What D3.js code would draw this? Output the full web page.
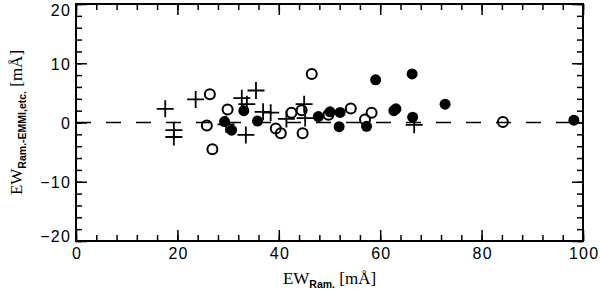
<!DOCTYPE html>
<meta charset="utf-8">
<script src="https://d3js.org/d3.v7.min.js"></script>
<style>
  body { margin: 0; background: #fff; }
</style>
<div id="my_dataviz"></div>
<script>

    // tick values and labels
    const xTickVals = [0, 20, 40, 60, 80, 100];
    const xMinorVals = [0, 4, 8, 12, 16, 20, 24, 28, 32, 36, 40, 44, 48, 52, 56, 60, 64, 68, 72, 76, 80, 84, 88, 92, 96, 100];
    const yTickVals = [-20, -10, 0, 10, 20];
    const yMinorVals = [-20, -18, -16, -14, -12, -10, -8, -6, -4, -2, 0, 2, 4, 6, 8, 10, 12, 14, 16, 18, 20];

    // plus symbols
    const plusX = [17.6, 19.3, 19.3, 23.6, 32.7, 33.7, 35.5, 33.5, 29.6, 36.9, 38.4, 41.5, 45.0, 45.2, 66.7];
    const plusY = [2.3, -1.3, -2.45, 3.9, 4.1, 3.1, 5.4, -2.1, -0.3, 1.8, 1.65, 0.6, 3.1, 0.75, -0.4];

    // open circles
    const openX = [26.4, 29.9, 25.8, 26.9, 46.5, 39.4, 40.4, 42.5, 44.5, 44.7, 49.8, 54.2, 58.3, 57.0, 84.2];
    const openY = [4.75, 2.2, -0.5, -4.5, 8.2, -1.0, -1.8, 1.65, 2.05, -1.8, 1.3, 2.35, 1.65, 0.5, 0.1];

    // filled circles
    const filledX = [29.3, 30.7, 33.1, 35.8, 47.8, 50.1, 52.1, 51.9, 57.3, 59.1, 62.7, 63.1, 66.3, 66.4, 72.8, 98.2];
    const filledY = [0.15, -1.3, 2.0, 0.25, 1.0, 1.8, 1.7, -0.7, -0.65, 7.2, 2.0, 2.3, 8.2, 0.9, 3.1, 0.4];

    const W = 600, H = 294;
    const mLeft = 76, mRight = 583, mTop = 4, mBottom = 241;

    const svg = d3.select("#my_dataviz")
        .append("svg")
        .attr("width", W)
        .attr("height", H)
        .style("display", "block");

    const x = d3.scaleLinear().domain([0, 100]).range([mLeft, mRight]);
    const y = d3.scaleLinear().domain([-20, 20]).range([mBottom, mTop]);

    const tickFont = "'Liberation Sans', Arial, sans-serif";

    function styleAxis(g) {
        g.select(".domain").remove();
        g.selectAll("line").attr("stroke", "#000").attr("stroke-width", 1.5);
        g.selectAll("text").attr("fill", "#000").style("font-family", tickFont)
            .style("font-size", "16px").style("letter-spacing", "1.2px");
    }

    // bottom axis: major + minor
    svg.append("g").attr("transform", `translate(0,${mBottom})`)
        .call(d3.axisBottom(x).tickValues(xMinorVals).tickSize(-6).tickFormat(""))
        .call(styleAxis);
    svg.append("g").attr("transform", `translate(0,${mBottom})`)
        .call(d3.axisBottom(x).tickValues(xTickVals).tickSize(-11).tickPadding(7).tickFormat(d3.format("d")))
        .call(styleAxis)
        .selectAll("text").attr("dx", 0.6);

    // top axis
    svg.append("g").attr("transform", `translate(0,${mTop})`)
        .call(d3.axisTop(x).tickValues(xMinorVals).tickSize(-6).tickFormat(""))
        .call(styleAxis);
    svg.append("g").attr("transform", `translate(0,${mTop})`)
        .call(d3.axisTop(x).tickValues(xTickVals).tickSize(-11).tickFormat(""))
        .call(styleAxis);

    // left axis
    svg.append("g").attr("transform", `translate(${mLeft},0)`)
        .call(d3.axisLeft(y).tickValues(yMinorVals).tickSize(-6).tickFormat(""))
        .call(styleAxis);
    svg.append("g").attr("transform", `translate(${mLeft},0)`)
        .call(d3.axisLeft(y).tickValues(yTickVals).tickSize(-11).tickPadding(5)
            .tickFormat(d => d < 0 ? "\u2212" + Math.abs(d) : d))
        .call(styleAxis)
        .selectAll("text")
        .attr("y", d => d === 20 ? 6.5 : d === -20 ? -5 : 1);

    // right axis
    svg.append("g").attr("transform", `translate(${mRight},0)`)
        .call(d3.axisRight(y).tickValues(yMinorVals).tickSize(-6).tickFormat(""))
        .call(styleAxis);
    svg.append("g").attr("transform", `translate(${mRight},0)`)
        .call(d3.axisRight(y).tickValues(yTickVals).tickSize(-11).tickFormat(""))
        .call(styleAxis);

    // frame
    svg.append("rect")
        .attr("x", mLeft).attr("y", mTop)
        .attr("width", mRight - mLeft).attr("height", mBottom - mTop)
        .attr("fill", "none").attr("stroke", "#000").attr("stroke-width", 2);

    // zero dashed line
    svg.append("line")
        .attr("x1", x(0)).attr("x2", x(100))
        .attr("y1", y(0)).attr("y2", y(0))
        .attr("stroke", "#000").attr("stroke-width", 1.5)
        .attr("stroke-dasharray", "15,15");

    // plus symbols
    const plusData = plusX.map((d, i) => ({ x: d, y: plusY[i] }));
    svg.append("g").selectAll("path")
        .data(plusData)
        .join("path")
        .attr("d", d => `M${x(d.x) - 8.5},${y(d.y)}H${x(d.x) + 8.5}M${x(d.x)},${y(d.y) - 8.5}V${y(d.y) + 8.5}`)
        .attr("stroke", "#000").attr("stroke-width", 1.8).attr("fill", "none");

    // open circles
    const openData = openX.map((d, i) => ({ x: d, y: openY[i] }));
    svg.append("g").selectAll("circle")
        .data(openData)
        .join("circle")
        .attr("cx", d => x(d.x)).attr("cy", d => y(d.y)).attr("r", 5)
        .attr("fill", "none").attr("stroke", "#000").attr("stroke-width", 2);

    // filled circles
    const filledData = filledX.map((d, i) => ({ x: d, y: filledY[i] }));
    svg.append("g").selectAll("circle")
        .data(filledData)
        .join("circle")
        .attr("cx", d => x(d.x)).attr("cy", d => y(d.y)).attr("r", 5.5)
        .attr("fill", "#000");

    // axis titles
    const serif = "'Liberation Serif', 'Times New Roman', serif";
    const xt = svg.append("text")
        .attr("x", (mLeft + mRight) / 2).attr("y", 284)
        .attr("text-anchor", "middle")
        .style("font-family", serif).style("font-size", "17px").attr("fill", "#000");
    xt.append("tspan").text("EW");
    xt.append("tspan").attr("dy", 4).style("font-family", tickFont).style("font-weight", "bold").style("font-size", "10.5px").text("Ram.");
    xt.append("tspan").attr("dy", -4).text(" [m\u00c5]");

    const yt = svg.append("text")
        .attr("transform", `translate(22,${(mTop + mBottom) / 2}) rotate(-90)`)
        .attr("text-anchor", "middle")
        .style("font-family", serif).style("font-size", "17px").attr("fill", "#000");
    yt.append("tspan").text("EW");
    yt.append("tspan").attr("dy", 4).style("font-family", tickFont).style("font-weight", "bold").style("font-size", "10.5px").text("Ram.-EMMI,etc.");
    yt.append("tspan").attr("dy", -4).text(" [m\u00c5]");

</script>
